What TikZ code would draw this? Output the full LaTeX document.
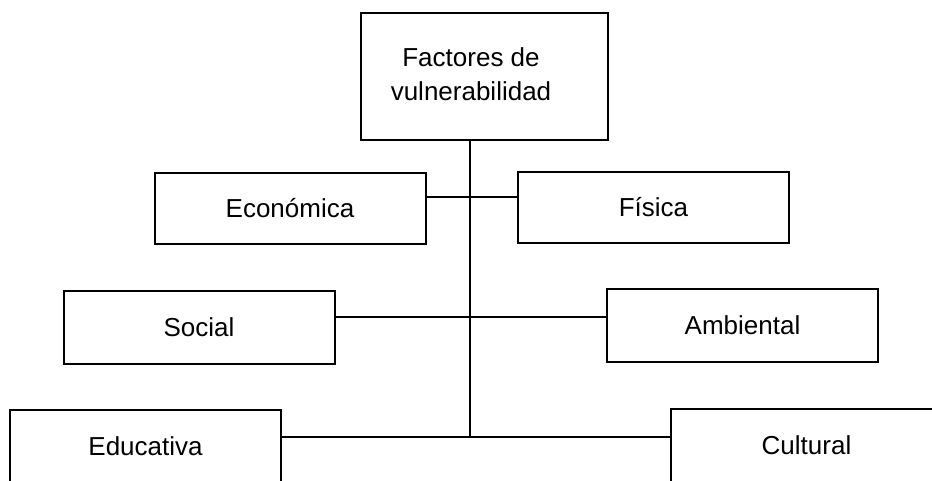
\documentclass[tikz,border=0pt]{standalone}
\usepackage{fontspec}
\setmainfont{Liberation Sans}
\usepackage{tikz}
\usetikzlibrary{positioning,calc}

\begin{document}
\begin{tikzpicture}[x=1pt, y=-1pt, line width=2pt,
    factor/.style={rectangle, draw, minimum width=271pt, minimum height=73pt, inner sep=0pt, font=\fontsize{26}{35}\selectfont}]
    \useasboundingbox (0,0) rectangle (932,481);
    \clip (0,0) rectangle (932,481);

    \node[factor, minimum width=247pt, minimum height=127pt, align=center] (factores) at (484.5,76.5) {\hspace*{-27pt}\begin{tabular}{@{}c@{}}Factores de\\[-1pt] vulnerabilidad\end{tabular}};
    \node[factor, minimum height=71pt] (economica) at (290,208.5) {Económica};
    \node[factor, minimum height=71pt] (fisica) at (653.5,207.5) {Física};
    \node[factor] (social) at (199,327) {Social};
    \node[factor] (ambiental) at (742.5,325.5) {Ambiental};
    \node[factor] (educativa) at (145.5,446.5) {Educativa};
    \node[factor] (cultural) at (806.5,445.5) {Cultural};

    % tronco central y ramas
    \coordinate (j1) at (470,197);
    \coordinate (j2) at (470,317);
    \coordinate (j3) at (470,437);
    \draw (j3 |- factores.south) -- (j3);
    \draw (economica.east |- j1) -- (fisica.west |- j1);
    \draw (social.east |- j2) -- (ambiental.west |- j2);
    \draw (educativa.east |- j3) -- (cultural.west |- j3);
\end{tikzpicture}
\end{document}
